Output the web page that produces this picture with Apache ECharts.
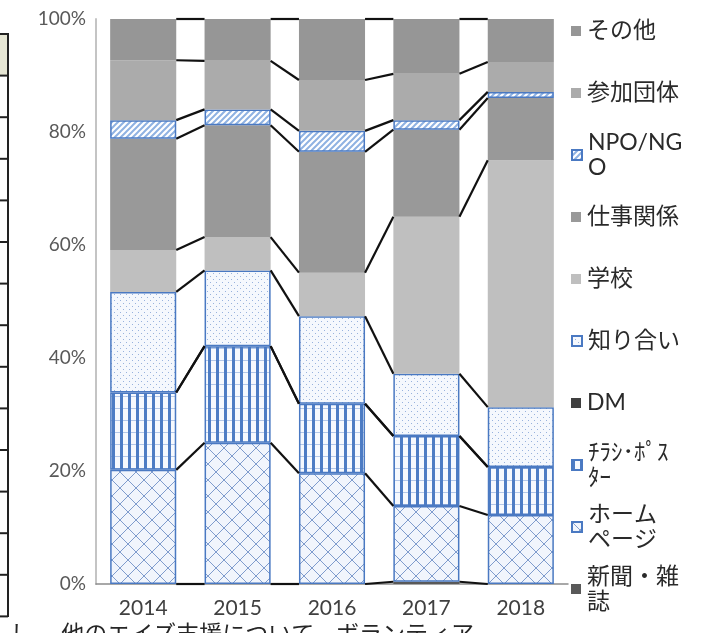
<!DOCTYPE html>
<html><head><meta charset="utf-8">
<script src="https://cdn.jsdelivr.net/npm/echarts@6/dist/echarts.min.js"></script>
<style>html,body{margin:0;padding:0;background:#fff}#c{width:722px;height:633px}</style>
</head><body><div id="c"></div>
<script>
// ---- data (bottom to top of each stacked bar, %) ----
const years = ['2014', '2015', '2016', '2017', '2018'];
const seriesNames = ['新聞・雑誌', 'ホームページ', 'ﾁﾗｼ･ﾎﾟｽﾀｰ', 'DM', '知り合い', '学校', '仕事関係', 'NPO/NGO', '参加団体', 'その他'];
const shinbun  = [0, 0, 0, 0.4, 0];
const homepage = [20.2, 25.0, 19.6, 13.4, 12.2];
const chirashi = [13.7, 17.1, 12.3, 12.4, 8.5];
const dm       = [0, 0, 0, 0, 0];
const shiriai  = [17.8, 13.4, 15.5, 11.0, 10.6];
const gakko    = [7.4, 5.9, 7.7, 27.8, 43.7];
const shigoto  = [19.7, 19.8, 21.4, 15.4, 11.0];
const npo      = [3.3, 2.8, 3.7, 1.7, 1.1];
const sanka    = [10.6, 8.6, 9.0, 8.2, 5.3];
const sonota   = [7.3, 7.4, 10.8, 9.7, 7.6];
const yTickValues = [0, 20, 40, 60, 80, 100];
const legendLabels = {'新聞・雑誌': '新聞・雑\n誌', 'ホームページ': 'ホーム\nページ', 'ﾁﾗｼ･ﾎﾟｽﾀｰ': 'ﾁﾗｼ･ﾎﾟｽ\nﾀｰ', 'NPO/NGO': 'NPO/NG\nO'};
const legendOrder = ['その他', '参加団体', 'NPO/NGO', '仕事関係', '学校', '知り合い', 'DM', 'ﾁﾗｼ･ﾎﾟｽﾀｰ', 'ホームページ', '新聞・雑誌'];
const bottomNote = 'し、 他のエイズ支援について、ボランティア';

const values = [shinbun, homepage, chirashi, dm, shiriai, gakko, shigoto, npo, sanka, sonota];

// ---- patterns ----
function tile(w, h, draw) {
  const c = document.createElement('canvas'); c.width = w; c.height = h;
  const g = c.getContext('2d'); draw(g, w, h); return c;
}
const hpTile = tile(16, 16, (g, w, h) => {
  g.fillStyle = '#f1f5fc'; g.fillRect(0, 0, w, h);
  g.strokeStyle = '#7f9ccd'; g.lineWidth = 1;
  g.beginPath(); g.moveTo(0, 0); g.lineTo(w, h); g.moveTo(w, 0); g.lineTo(0, h); g.stroke();
});
const chTile = tile(8, 12, (g, w, h) => {
  g.fillStyle = '#f6f9fe'; g.fillRect(0, 0, w, h);
  g.fillStyle = '#b3c7e8'; g.fillRect(0, 0, w, 1);
  g.fillStyle = '#4d7cc4'; g.fillRect(0, 0, 3, h);
});
const shTile = tile(6, 6, (g, w, h) => {
  g.fillStyle = '#f5f8fd'; g.fillRect(0, 0, w, h);
  g.fillStyle = '#98b2dd'; g.fillRect(0, 0, 1, 1); g.fillRect(3, 3, 1, 1);
});
const npoTile = tile(6, 6, (g, w, h) => {
  g.fillStyle = '#ffffff'; g.fillRect(0, 0, w, h);
  g.strokeStyle = '#8fb2e2'; g.lineWidth = 2;
  g.beginPath(); g.moveTo(0, h); g.lineTo(w, 0); g.moveTo(-1, 1); g.lineTo(1, -1); g.moveTo(w - 1, h + 1); g.lineTo(w + 1, h - 1); g.stroke();
});
const pat = c => ({image: c, repeat: 'repeat'});
const blueBorder = '#4a79c2';
const styles = [
  {color: '#595959'},
  {color: pat(hpTile), borderColor: blueBorder, borderWidth: 1.5},
  {color: pat(chTile), borderColor: blueBorder, borderWidth: 1.5},
  {color: '#404040'},
  {color: pat(shTile), borderColor: blueBorder, borderWidth: 1.5},
  {color: '#bfbfbf'},
  {color: '#999999'},
  {color: pat(npoTile), borderColor: blueBorder, borderWidth: 1.5},
  {color: '#ababab'},
  {color: '#969696'}
];

const barSeries = seriesNames.map((n, k) => ({
  name: n, type: 'bar', stack: 'all', barCategoryGap: '30%',
  data: values[k], itemStyle: styles[k], emphasis: {disabled: true}
}));

// series lines connecting the tops of each segment
const lineData = [];
const cum = years.map(() => 0);
values.forEach(arr => {
  arr.forEach((v, i) => { cum[i] += v; });
  for (let i = 0; i < years.length - 1; i++) lineData.push([i, cum[i], cum[i + 1]]);
});
const seriesLines = {
  type: 'custom', name: 'lines', data: lineData, z: 5, silent: true,
  encode: {x: 0, y: [1, 2]},
  renderItem: (params, api) => {
    const i = api.value(0);
    const p0 = api.coord([i, api.value(1)]);
    const p1 = api.coord([i + 1, api.value(2)]);
    const bw = api.size([1, 0])[0] * 0.7;
    return {type: 'line', shape: {x1: p0[0] + bw / 2, y1: p0[1], x2: p1[0] - bw / 2, y2: p1[1]},
            style: {stroke: '#111', lineWidth: 2.2}};
  }
};

const LH = 25;
const legends = legendOrder.map((n, j) => {
  const two = !!legendLabels[n];
  const h = two ? LH * 3 : LH;
  const c = 31 + 62 * j;
  return {
    left: 571, top: c - h / 2, padding: 0, orient: 'vertical', itemWidth: 10, itemHeight: 10,
    icon: 'rect', selectedMode: false, data: [n],
    formatter: nm => legendLabels[nm] || nm,
    textStyle: {fontSize: 23, lineHeight: LH, color: '#2a2a2a', fontFamily: 'Lato, "Noto Sans CJK JP"',
                padding: two ? [LH, 0, 0, 1] : [0, 0, 0, 1]}
  };
});

// fragment of neighbouring table at left edge
const tableEls = [];
tableEls.push({type: 'rect', shape: {x: -3, y: 34, width: 10, height: 42}, style: {fill: '#e6e6d4'}});
for (let k = 0; k <= 14; k++) {
  tableEls.push({type: 'line', shape: {x1: 0, y1: 34 + k * 41.6, x2: 8, y2: 34 + k * 41.6}, style: {stroke: '#222', lineWidth: 2}});
}
tableEls.push({type: 'line', shape: {x1: 8, y1: 33, x2: 8, y2: 617}, style: {stroke: '#222', lineWidth: 2}});

const chart = echarts.init(document.getElementById('c'), null, {renderer: 'canvas'});
chart.setOption({
  animation: false,
  backgroundColor: '#ffffff',
  grid: {left: 96, right: 154, top: 19, bottom: 49, containLabel: false},
  legend: legends,
  xAxis: {
    type: 'category', data: years,
    axisLine: {lineStyle: {color: '#8c8c8c', width: 1.5}},
    axisTick: {show: false},
    axisLabel: {fontSize: 21, color: '#404040', margin: 14, fontFamily: 'Lato'}
  },
  yAxis: {
    type: 'value', min: yTickValues[0], max: yTickValues[yTickValues.length - 1], interval: 20,
    axisLine: {show: true, lineStyle: {color: '#c4c4c4', width: 2}},
    axisTick: {show: false}, splitLine: {show: false},
    axisLabel: {formatter: '{value}%', fontSize: 19, color: '#595959', margin: 10, fontFamily: 'Lato'}
  },
  graphic: [
    {type: 'group', children: tableEls},
    {type: 'text', left: 10, top: 622, style: {text: bottomNote, fontSize: 23, fill: '#262626', fontFamily: '"Noto Sans CJK JP"'}}
  ],
  series: barSeries.concat([seriesLines])
});
</script></body></html>
